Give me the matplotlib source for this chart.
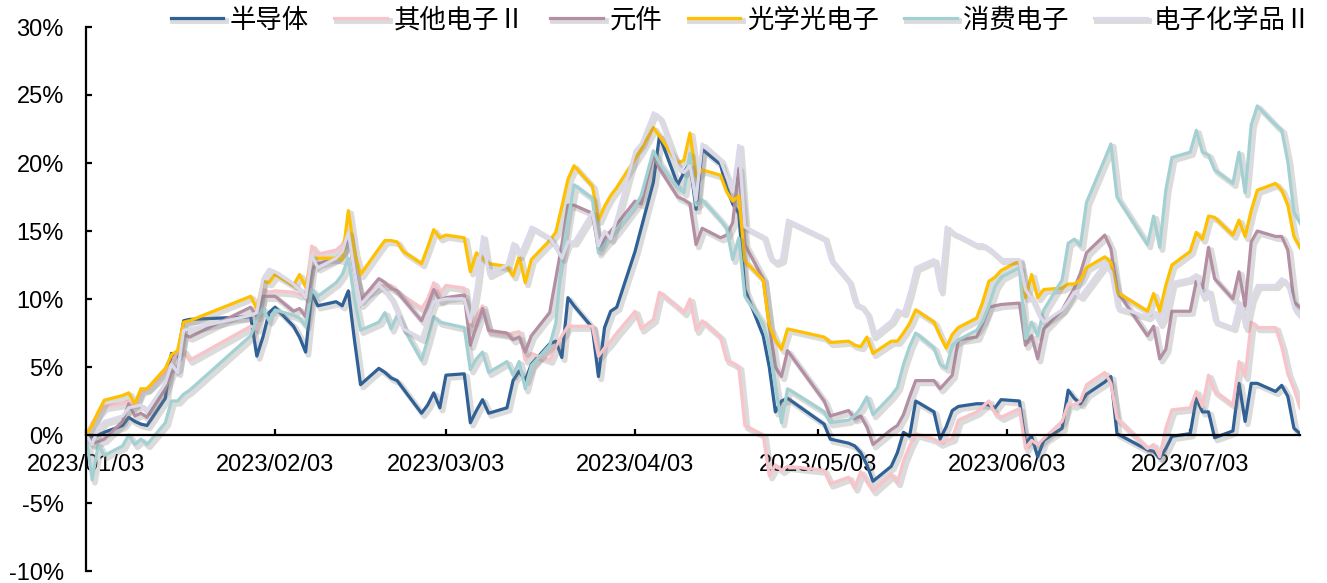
import matplotlib
matplotlib.use('Agg')
import matplotlib.pyplot as plt
import matplotlib.dates as mdates
import matplotlib.patheffects as pe
from matplotlib.ticker import FuncFormatter, MultipleLocator
import pandas as pd

plt.rcParams['font.family'] = ['Liberation Sans', 'Noto Sans CJK SC', 'DejaVu Sans']

# trading days 2023/01/03 - 2023/07/21 (SSE holidays removed)
holidays = ['2023-01-23', '2023-01-24', '2023-01-25', '2023-01-26', '2023-01-27',
            '2023-04-05', '2023-05-01', '2023-05-02', '2023-05-03',
            '2023-06-22', '2023-06-23']
dates = pd.bdate_range('2023-01-03', '2023-07-21')
dates = dates[~dates.isin(pd.to_datetime(holidays))]

# cumulative return, %  (one row per month: Jan, Feb, Mar, Apr, May, Jun, Jul)
semi = [0, -0.1, 0, 0.2, 0.7, 1.3, 1.0, 0.8, 0.7, 2.7, 6.0, 5.8, 8.4, 8.5, 8.7, 5.8,
        7.2, 9.0, 9.4, 8.0, 7.2, 6.1, 10.4, 9.5, 9.8, 9.5, 10.6, 7.0, 3.7, 4.9, 4.6, 4.2, 4.0, 3.4, 1.6, 2.2,
        3.1, 2.0, 4.4, 4.5, 0.9, 1.8, 2.6, 1.6, 2.0, 4.0, 4.7, 4.0, 5.2, 6.7, 6.9, 5.7, 10.1, 9.5, 7.9, 4.3, 7.9, 9.1, 9.4,
        13.5, 15.2, 18.6, 22.0, 18.4, 19.3, 20.0, 16.6, 21.0, 19.9, 18.2, 17.0, 16.3, 10.7, 7.3, 5.0, 1.7, 2.5, 2.7,
        0.8, -0.3, -0.6, -0.8, -1.3, -2.2, -3.4, -2.3, -1.3, 0.2, -0.1, 2.5, 1.7, -0.3, 0.6, 1.8, 2.1, 2.3, 2.3, 2.2,
        2.0, 2.6, 2.5, -0.6, -0.1, -1.6, -0.4, 0.5, 3.3, 2.7, 2.3, 3.0, 3.9, 4.3, 0.1, -1.1, -1.2, -1.7, -1.0, -0.1,
        0.1, 2.7, 1.7, 1.7, -0.2, 0.3, 3.8, 1.0, 3.8, 3.8, 3.2, 3.65, 2.85, 0.5, 0.1]
other = [0, 0.9, 1.6, 2.1, 2.3, 2.5, 2.2, 3.2, 3.4, 4.6, 5.2, 6.1, 6.2, 5.5, 8.0, 7.8,
         10.7, 10.5, 10.6, 10.5, 10.3, 10.4, 13.9, 13.3, 13.6, 14.0, 14.9, 12.0, 10.2, 10.9, 11.0, 11.0, 10.5, 10.2, 9.3, 10.0,
         11.2, 10.4, 11.0, 10.8, 7.8, 8.7, 9.5, 7.6, 7.4, 7.5, 7.6, 5.5, 6.0, 5.5, 6.5, 7.3, 8.0, 8.0, 8.0, 5.8, 6.4, 6.9, 7.5,
         9.1, 7.8, 8.5, 10.5, 9.4, 9.0, 10.0, 7.7, 8.4, 7.2, 5.5, 5.3, 5.0, 0.7, 0.0, -3.0, -2.2, -2.6, -2.3,
         -2.6, -3.6, -3.1, -3.9, -2.7, -3.4, -4.1, -2.9, -3.5, -1.9, -0.8, 0.1, -0.3, -0.6, -0.4, -0.25, 1.1, 1.7, 2.1, 2.5,
         1.6, 1.3, 1.95, -1.0, -0.4, -0.7, -0.25, 1.0, 2.3, 2.2, 2.5, 3.7, 4.6, 3.8, 1.2, -1.0, -0.7, -1.6, 0.5, 1.85,
         2.0, 3.2, 2.1, 4.4, 3.2, 2.2, 5.4, 4.3, 8.3, 7.9, 7.9, 6.5, 4.5, 3.4, 2.0]
component = [0, -0.6, -0.5, -0.3, 1.0, 2.3, 1.4, 1.6, 1.3, 3.4, 4.6, 4.9, 7.4, 7.2, 9.4, 8.7,
             10.2, 10.2, 10.2, 9.1, 9.3, 8.7, 12.2, 12.6, 13.0, 13.5, 14.6, 12.0, 9.9, 11.5, 11.2, 10.8, 10.6, 10.0, 8.4, 9.5,
             10.7, 9.9, 10.1, 10.3, 6.6, 8.0, 9.3, 7.7, 7.5, 7.0, 7.2, 6.1, 7.3, 9.0, 11.5, 14.0, 16.9, 16.9, 16.3, 13.6, 14.4, 15.0, 15.5,
             17.2, 17.0, 20.6, 19.6, 17.5, 17.3, 17.0, 14.0, 15.2, 14.5, 14.7, 15.6, 19.6, 14.0, 11.5, 8.0, 5.0, 4.3, 6.2,
             2.5, 1.4, 1.8, 1.2, 1.4, 0.6, -0.7, 0.4, 0.7, 1.5, 2.8, 4.0, 4.0, 3.4, 3.9, 4.4, 7.0, 7.2, 8.2, 9.4,
             9.5, 9.6, 9.7, 6.6, 7.3, 5.6, 7.8, 9.2, 10.0, 10.8, 11.9, 13.4, 14.7, 13.7, 10.6, 7.3, 8.0, 5.6, 6.3, 9.1,
             9.1, 11.3, 10.8, 13.8, 11.5, 10.0, 12.0, 9.5, 14.2, 15.0, 14.6, 14.6, 13.6, 9.8, 9.4]
optical = [0, 0.7, 1.7, 2.56, 2.9, 3.1, 2.3, 3.4, 3.4, 4.9, 5.9, 6.2, 8.3, 8.4, 10.2, 9.3,
           11.3, 11.2, 11.8, 11.0, 11.8, 10.9, 12.9, 13.0, 13.0, 12.9, 16.5, 13.5, 11.8, 13.7, 14.3, 14.3, 14.2, 13.5, 12.6, 13.8,
           15.1, 14.5, 14.7, 14.5, 12.0, 13.4, 13.0, 12.6, 12.4, 11.7, 13.1, 11.2, 12.9, 14.3, 14.9, 16.8, 18.8, 19.8, 18.3, 15.8, 16.8, 17.6, 18.2,
           20.3, 21.0, 22.6, 22.0, 20.0, 20.2, 22.2, 19.0, 19.5, 19.1, 17.9, 17.2, 17.6, 12.8, 11.4, 8.0, 7.0, 6.3, 7.8,
           7.2, 6.8, 6.9, 6.6, 6.5, 7.2, 6.0, 6.9, 6.9, 7.5, 8.2, 9.2, 8.3, 7.3, 6.4, 7.4, 7.9, 8.6, 9.8, 11.3,
           11.6, 12.1, 12.8, 10.1, 11.8, 10.1, 10.7, 10.8, 11.1, 11.1, 11.4, 12.3, 13.1, 12.7, 10.5, 9.1, 10.4, 9.1, 11.0, 12.5,
           13.5, 14.9, 14.4, 16.1, 16.0, 14.7, 15.8, 14.6, 16.5, 18.0, 18.5, 18.0, 16.9, 14.6, 13.8]
consumer = [0, -3.3, -0.7, -1.5, -0.8, 0.0, -0.7, -0.3, -0.7, 0.9, 2.5, 2.5, 3.0, 3.3, 7.3, 8.5,
            9.3, 8.4, 9.2, 8.8, 8.6, 8.0, 10.7, 10.2, 11.2, 11.8, 13.0, 10.0, 7.7, 8.3, 9.0, 7.8, 8.8, 7.9, 5.5, 7.0,
            8.7, 8.3, 8.2, 7.9, 4.8, 5.6, 6.1, 4.6, 5.4, 4.4, 5.4, 3.4, 5.1, 6.6, 8.2, 13.0, 15.8, 18.4, 17.4, 13.4, 14.0, 14.5, 15.0,
            16.8, 17.6, 20.9, 20.0, 18.2, 17.8, 20.7, 16.9, 17.3, 15.8, 15.2, 12.9, 14.5, 10.2, 8.2, 6.4, 3.6, 0.9, 3.4,
            1.7, 0.9, 1.1, 1.4, 2.0, 2.8, 1.5, 2.9, 3.5, 5.2, 6.5, 7.5, 6.4, 5.2, 4.9, 6.6, 7.0, 7.7, 8.4, 9.5,
            10.9, 11.6, 12.3, 7.1, 8.3, 7.3, 9.2, 11.4, 14.1, 14.4, 13.9, 17.1, 20.3, 21.4, 17.5, 14.0, 16.1, 13.8, 18.0, 20.4,
            20.8, 22.4, 20.8, 20.6, 19.5, 18.5, 20.8, 17.8, 22.8, 24.2, 22.8, 22.4, 20.1, 16.4, 15.6]
chem = [0, -0.7, 0.5, 1.0, 1.4, 2.0, 2.1, 2.2, 1.8, 3.8, 5.2, 4.6, 7.7, 7.8, 8.8, 9.0,
        11.5, 12.2, 12.0, 11.1, 10.7, 10.1, 13.2, 12.3, 13.0, 13.5, 14.9, 12.0, 9.6, 11.0, 10.6, 10.0, 9.0, 7.8, 7.1, 8.5,
        9.8, 9.9, 10.0, 10.0, 8.3, 11.0, 14.6, 11.8, 12.5, 14.1, 13.2, 14.2, 15.3, 14.5, 13.8, 13.0, 14.2, 14.2, 16.4, 13.9, 15.0, 14.4, 16.0,
        20.9, 21.4, 23.7, 23.3, 19.7, 19.3, 19.8, 17.3, 21.4, 20.2, 19.0, 17.9, 21.3, 15.3, 14.6, 13.1, 12.7, 12.9, 15.8,
        14.5, 12.9, 11.3, 9.7, 9.5, 8.9, 7.3, 8.4, 9.2, 9.0, 10.5, 12.3, 12.9, 10.6, 15.3, 14.9, 14.7, 14.0, 14.0, 13.7,
        13.3, 12.9, 12.9, 10.7, 10.0, 9.0, 8.3, 9.2, 9.8, 10.5, 10.2, 10.8, 12.6, 12.0, 9.4, 8.7, 9.1, 8.2, 9.0, 11.2,
        11.5, 11.8, 10.2, 10.6, 8.4, 7.9, 9.8, 7.9, 10.0, 11.0, 11.0, 11.5, 11.0, 9.3, 8.8]

names = ['半导体', '其他电子Ⅱ', '元件', '光学光电子', '消费电子', '电子化学品Ⅱ']
colors = ['#2F6096', '#F9C3CA', '#B48FA3', '#FFC000', '#A3D1D3', '#DCD9EA']
series = [semi, other, component, optical, consumer, chem]

fig = plt.figure(figsize=(13.27, 5.83), dpi=100)
ax = fig.add_axes([86 / 1327, 12 / 583, (1300 - 86) / 1327, (571 - 27) / 583])

shadow = [pe.SimpleLineShadow(offset=(2, -2), shadow_color='#808080', alpha=0.28, linewidth=4.2),
          pe.Normal()]
for name, col, vals in zip(names, colors, series):
    ax.plot(dates, vals, color=col, lw=2.3, label=name, path_effects=shadow)

ax.set_ylim(-10, 30)
ax.set_xlim(dates[0], dates[-1])
ax.yaxis.set_major_locator(MultipleLocator(5))
ax.yaxis.set_major_formatter(FuncFormatter(lambda v, p: f'{v:.0f}%'))
month_ticks = pd.date_range('2023-01-03', periods=7, freq=pd.DateOffset(months=1))
ax.set_xticks(month_ticks)
ax.xaxis.set_major_formatter(mdates.DateFormatter('%Y/%m/%d'))

for s in ['top', 'right']:
    ax.spines[s].set_visible(False)
ax.spines['bottom'].set_position(('data', 0))
ax.spines['left'].set_linewidth(1.6)
ax.spines['bottom'].set_linewidth(1.6)
ax.tick_params(axis='y', direction='in', length=4.5, width=1.6, pad=16, labelsize=17)
ax.tick_params(axis='x', direction='in', length=4.5, width=1.6, pad=14, labelsize=17)

fig.legend(loc='center', bbox_to_anchor=(741 / 1327, 1 - 20 / 583), ncol=6, frameon=False,
           handlelength=2.0, handletextpad=0.25, columnspacing=0.95,
           prop={'family': ['Noto Sans CJK SC', 'DejaVu Sans'], 'size': 19})

fig.savefig('out.png', dpi=100)
